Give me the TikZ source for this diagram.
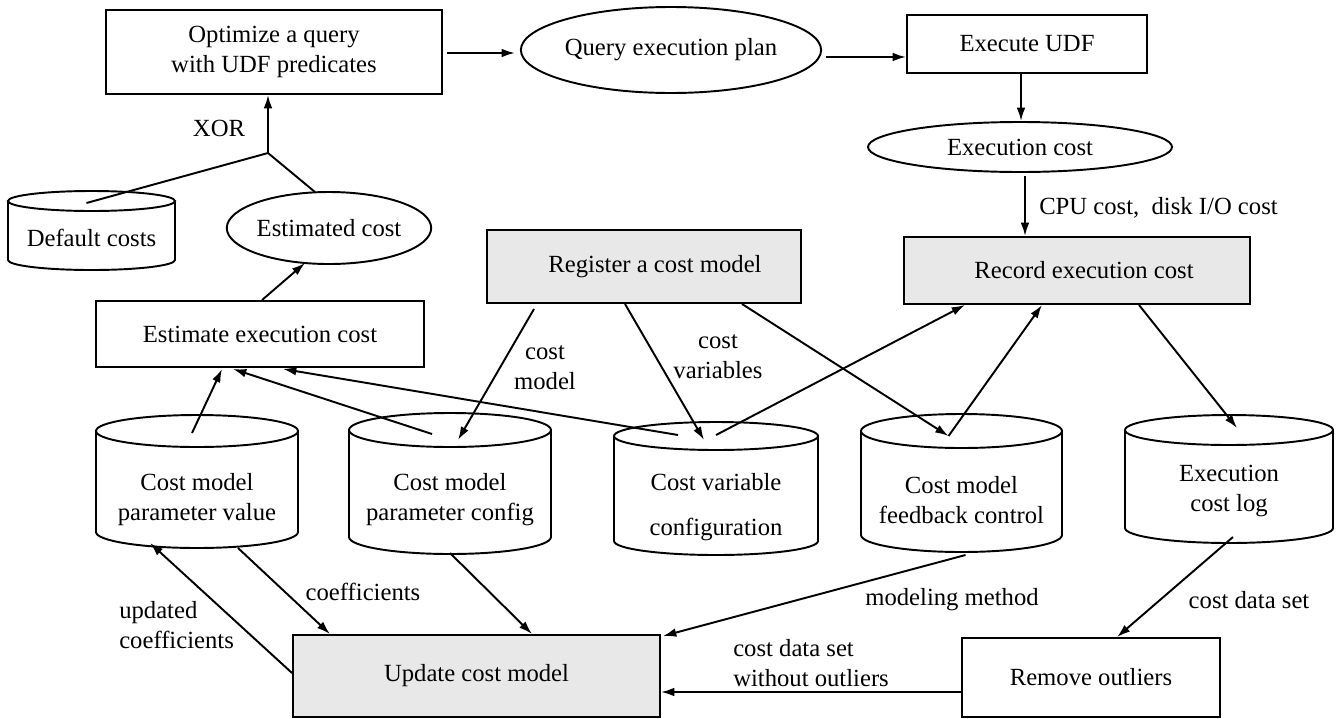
\documentclass[tikz,border=0pt]{standalone}
\usepackage{fontspec}
\setmainfont{Liberation Serif}
\usetikzlibrary{arrows.meta,calc,shapes.geometric}
\definecolor{boxgray}{HTML}{E8E8E8}

% cylinder (data store): name, cx, top-ellipse y, bottom-ellipse y, half width, y radius, text y, text
\newcommand{\dbstore}[8]{%
  \draw[outl] (#2-#5,#3) -- (#2-#5,#4)
     arc[start angle=180, end angle=0, x radius=#5, y radius=#6] -- (#2+#5,#3);
  \draw[outl] (#2,#3) ellipse[x radius=#5, y radius=#6];
  \node[txt] (#1) at (#2,#7) {#8};
}

\begin{document}
\begin{tikzpicture}[x=0.75pt,y=-0.75pt,
  every node/.style={font=\fontsize{18.5}{22.5}\selectfont},
  outl/.style={line width=1.45pt},
  txt/.style={inner sep=0pt, align=center},
  box/.style={draw, rectangle, line width=1.45pt, inner sep=0pt, align=center},
  graybox/.style={box, fill=boxgray},
  oval/.style={draw, ellipse, line width=1.45pt, inner sep=0pt, align=center},
  conn/.style={line width=1.45pt, -{Latex[length=10pt,width=6.5pt]}},
  plain/.style={line width=1.45pt},
  lbl/.style={inner sep=0pt, align=left}
]
\useasboundingbox (0,0) rectangle (1337,718);

% process boxes and results
\node[box, minimum width=252pt, minimum height=63pt] (opt) at (274,52) {Optimize a query\\with UDF predicates};
\node[oval, minimum width=225pt, minimum height=64.5pt] (qep) at (671,50) {Query execution plan};
\node[box, minimum width=180pt, minimum height=43.5pt] (udf) at (1027,44) {Execute UDF};
\node[oval, minimum width=228pt, minimum height=37.5pt] (exc) at (1020,147) {Execution cost};
\node[graybox, minimum width=259.5pt, minimum height=50.25pt] (rec) at (1077,270.5) {\hspace*{10.5pt}Record execution cost};
\node[graybox, minimum width=235.5pt, minimum height=54.75pt] (reg) at (644,266.5) {\hspace*{16.5pt}Register a cost model};
\node[oval, minimum width=151.5pt, minimum height=54pt] (est) at (329,228) {Estimated cost};
\node[box, minimum width=246pt, minimum height=49.5pt] (estbox) at (260,334) {Estimate execution cost};
\node[graybox, minimum width=275.25pt, minimum height=61.5pt] (upd) at (476.5,676) {Update cost model};
\node[box, minimum width=193.5pt, minimum height=59.25pt] (rmv) at (1091,677.5) {Remove outliers};

% data stores
\dbstore{def}{91.5}{201}{260}{83.5}{10}{238}{Default costs}
\dbstore{pv}{197}{431}{532}{101}{16}{500}{Cost model\\parameter value}
\dbstore{pc}{450}{430}{537}{101}{17}{500}{Cost model\\parameter config}
\dbstore{cv}{716}{436}{541}{102}{14}{507}{Cost variable\\[11pt]configuration}
\dbstore{fb}{961.5}{431}{535}{100.5}{17}{500}{Cost model\\feedback control}
\dbstore{log}{1229}{430}{528}{104}{15}{491}{Execution\\cost log}

% XOR junction
\coordinate (xor) at (268,153);
\draw[plain] ($(def)+(-5,-35)$) -- (xor);
\draw[plain] ($(est)+(-14,-36)$) -- (xor);
\draw[conn] (xor) -- (xor |- opt.south);
\node[lbl] (xorlbl) at (219,128) {XOR};

% execution path
\draw[conn] ($(opt.east)+(4,1)$) -- ($(qep.west)+(-5,3)$);
\draw[conn] ($(qep.east)+(4,7)$) -- ($(udf.west)+(0,13)$);
\draw[conn] ($(udf.south)+(-6,0)$) -- ($(exc.north)+(1,0)$);
\draw[conn] ($(exc.south)+(5,3)$) -- ($(rec.north)+(-52,0)$);
\node[lbl, anchor=west] (cpu) at (1039,208) {CPU cost,~ disk I/O cost};

% estimation
\draw[conn] ($(estbox.north)+(2,0)$) -- ($(est.south)+(-24,-2)$);
\draw[conn] ($(pv)+(-5,-67)$) -- ($(estbox.south)+(-38,1)$);
\draw[conn] ($(pc)+(-18,-66)$) -- ($(estbox.south)+(-27,1)$);
\draw[conn] ($(cv)+(-38,-72)$) -- ($(estbox.south)+(23,1)$);

% registration
\draw[conn] ($(reg.south)+(-110,5)$) -- ($(pc)+(8,-60)$);
\node[txt] (cmlbl) at (545,368) {cost\\model};
\draw[conn] ($(reg.south)+(-19,0)$) -- ($(cv)+(-12,-67)$);
\node[txt] (cvlbl) at (718,357) {cost\\variables};
\draw[conn] ($(reg.south)+(98,0)$) -- ($(fb)+(-13,-64)$);

% recording
\draw[conn] ($(cv)+(0,-72)$) -- ($(rec.south)+(-112,0)$);
\draw[conn] ($(fb)+(-13,-64)$) -- ($(rec.south)+(-35,0)$);
\draw[conn] ($(rec.south)+(62,0)$) -- ($(log)+(8,-63)$);

% model update
\draw[conn] ($(upd.west)+(0,-3)$) -- ($(pv)+(-47,43)$);
\node[lbl, anchor=west] (upcoef) at (119,625) {updated\\coefficients};
\draw[conn] ($(pv)+(41,48)$) -- ($(upd.north)+(-146.5,0)$);
\node[txt] (coef) at (363,592) {coefficients};
\draw[conn] ($(pc)+(0,53)$) -- ($(upd.north)+(55.5,0)$);
\draw[conn] ($(fb)+(4,55)$) -- ($(upd.north east)+(2,2)$);
\node[txt] (mm) at (952,600) {modeling method};
\draw[conn] ($(log)+(4,46)$) -- ($(rmv.north)+(26,0)$);
\node[txt] (cds) at (1249,600) {cost data set};
\draw[conn] ($(rmv.west)+(0,14.5)$) -- ($(upd.east)+(0,16)$);
\node[lbl, anchor=west] (cdswo) at (733,663) {cost data set\\without outliers};
\end{tikzpicture}
\end{document}
